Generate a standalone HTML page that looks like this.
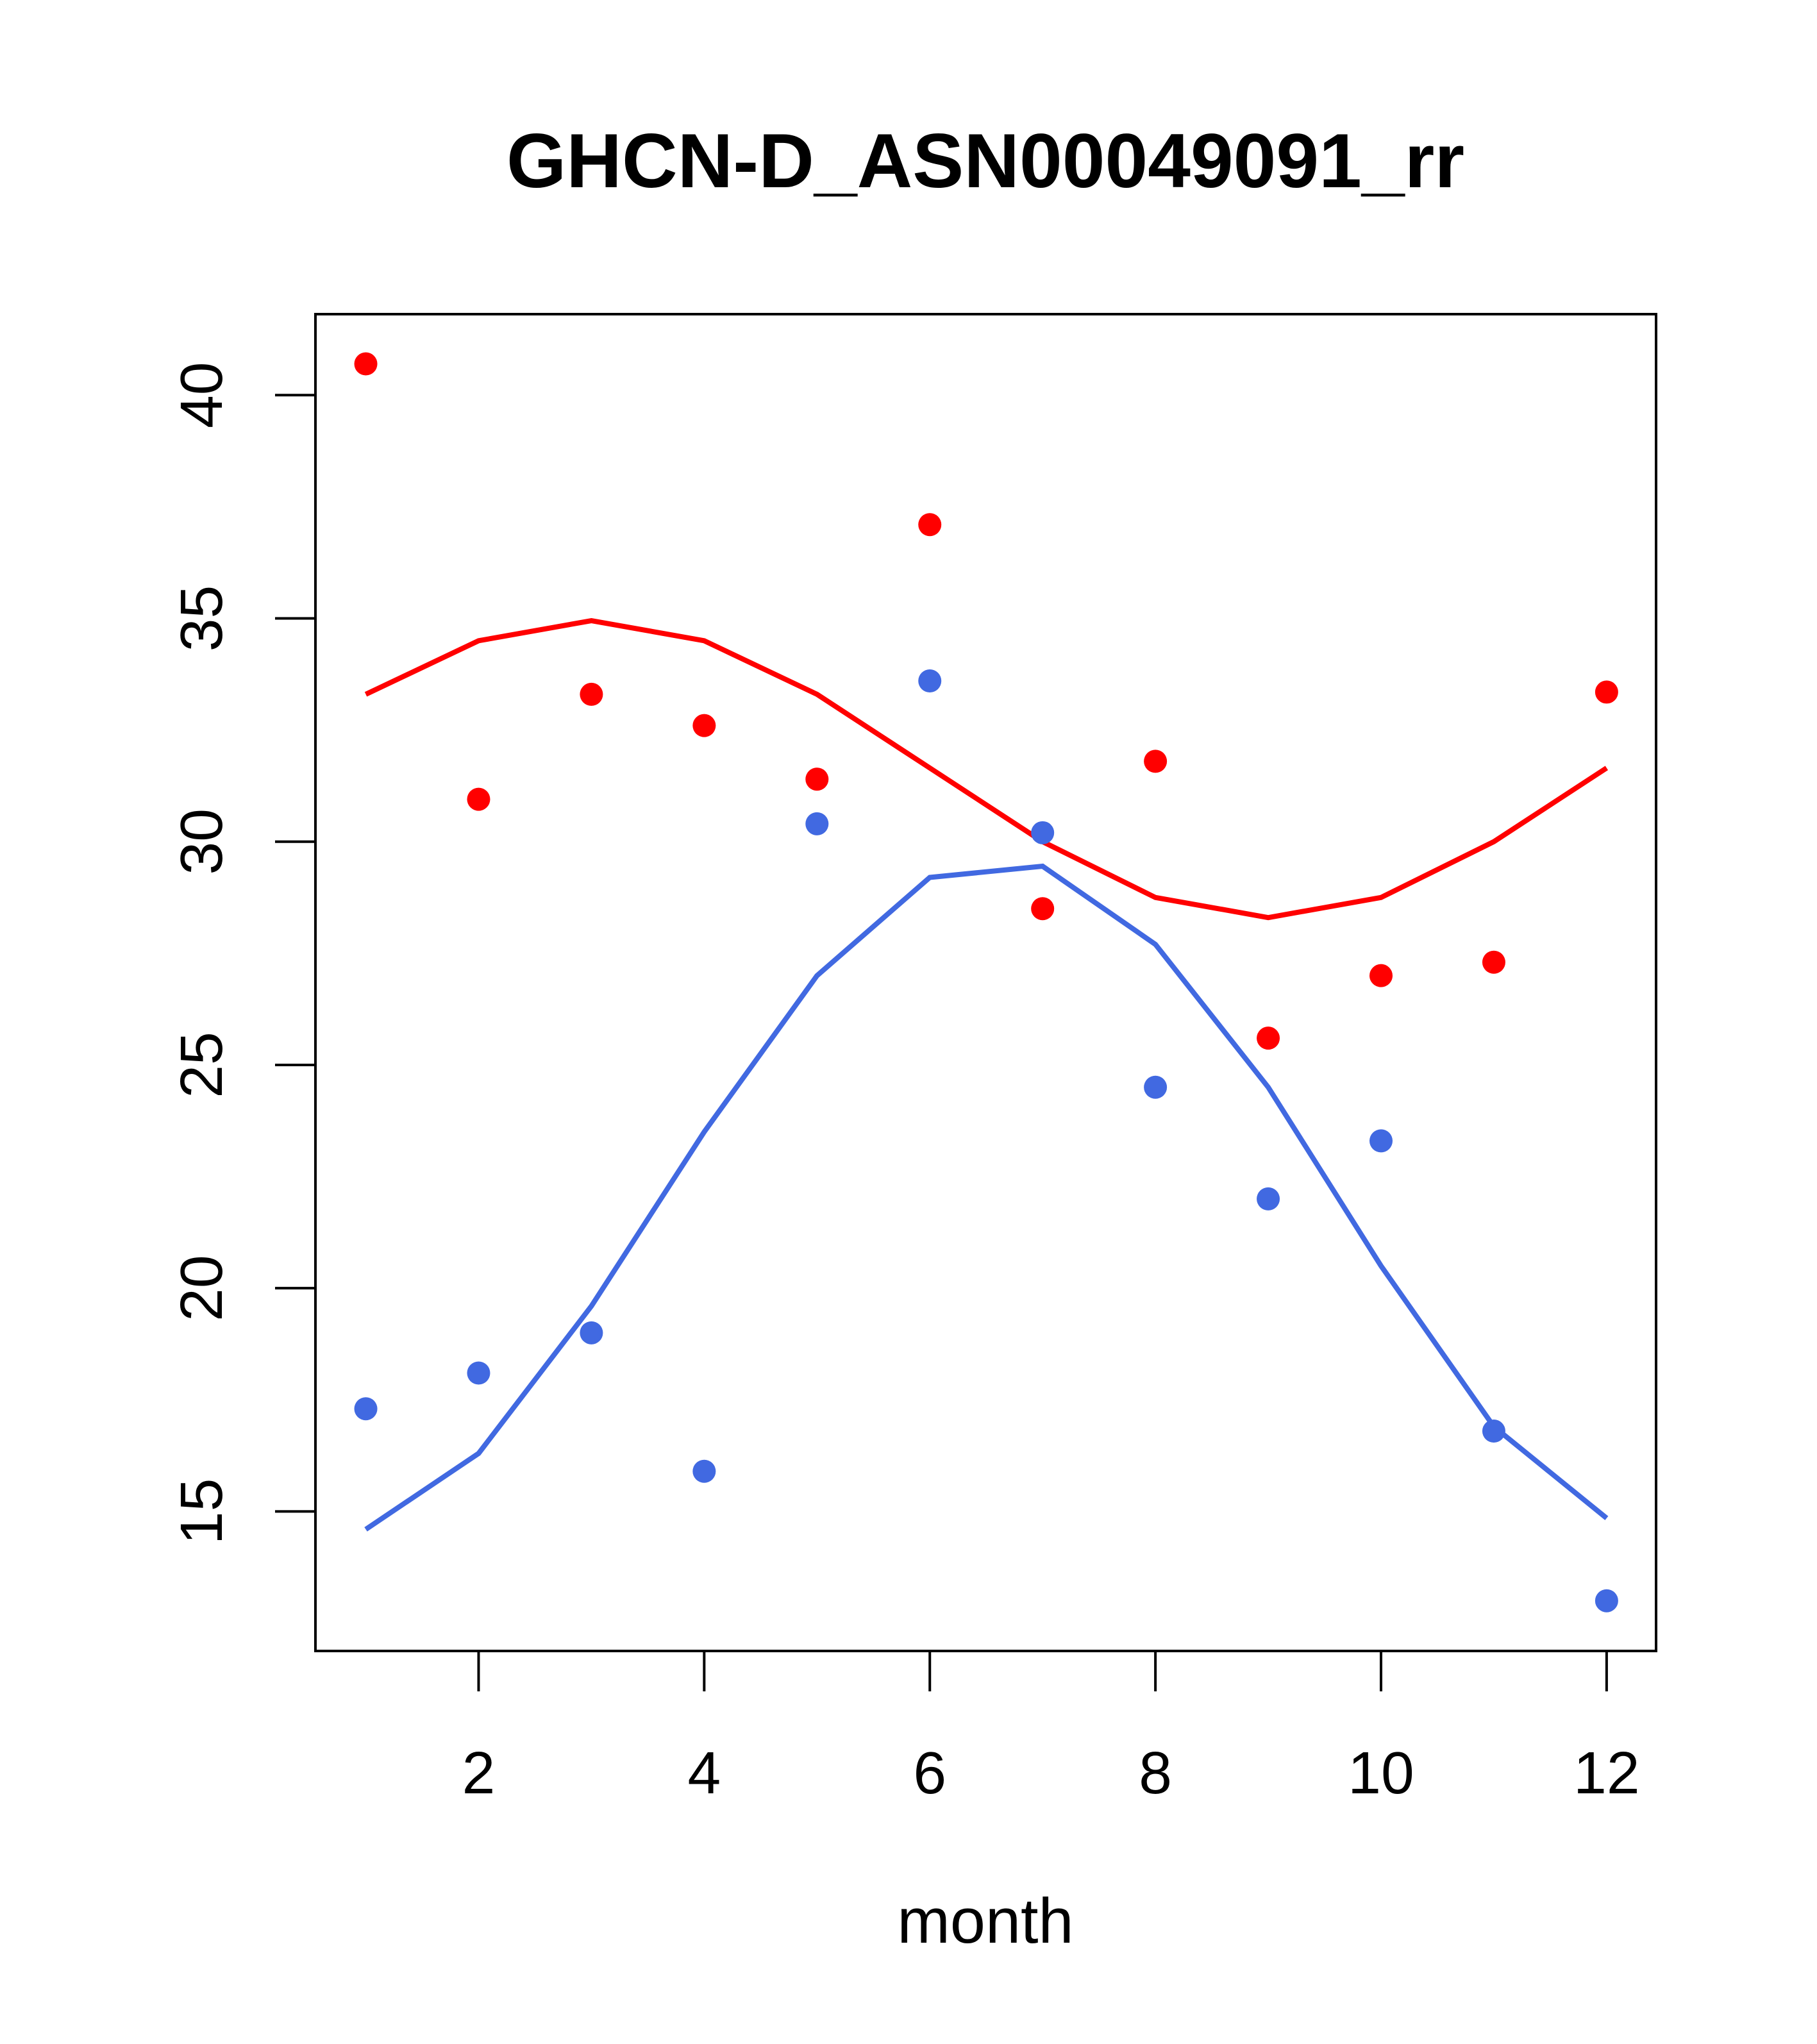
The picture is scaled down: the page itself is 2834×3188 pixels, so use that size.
<!DOCTYPE html>
<html><head><meta charset="utf-8"><style>
html,body{margin:0;padding:0;background:#fff;}
svg{display:block;font-family:"Liberation Sans",sans-serif;}
</style></head><body>
<svg id="chart" width="2834" height="3188" viewBox="0 0 2834 3188" xmlns="http://www.w3.org/2000/svg">
<rect width="2834" height="3188" fill="#fff"/>
<text x="1537" y="292" text-anchor="middle" font-size="120" font-weight="bold">GHCN-D_ASN00049091_rr</text>
<text x="1537" y="3030" text-anchor="middle" font-size="99">month</text>
<rect x="492" y="490" width="2091" height="2085" fill="none" stroke="#000" stroke-width="4"/>
<g id="xaxis"></g>
<g id="yaxis"></g>
<g id="series"></g>
</svg>
<script>
const months = [1,2,3,4,5,6,7,8,9,10,11,12];
const redPoints = [40.7,30.95,33.3,32.6,31.4,37.1,28.5,31.8,25.6,27.0,27.3,33.35];
const redLine = [33.3,34.5,34.95,34.5,33.3,31.65,30.0,28.75,28.3,28.75,30.0,31.65];
const bluePoints = [17.3,18.1,19.0,15.9,30.4,33.6,30.2,24.5,22.0,23.3,16.8,13.0];
const blueLine = [14.6,16.3,19.6,23.5,27.0,29.2,29.45,27.7,24.5,20.5,16.9,14.85];
const xTicks = [2,4,6,8,10,12];
const yTicks = [15,20,25,30,35,40];

const NS = "http://www.w3.org/2000/svg";
const S = 2.034;
function x(m){ return S*(280.5 + (m-1)*86.5); }
function y(v){ return S*(303 + (40-v)*34.24); }
function mk(tag, attrs, parent){
  const e = document.createElementNS(NS, tag);
  for (const k in attrs) e.setAttribute(k, attrs[k]);
  parent.appendChild(e);
  return e;
}
const xa = document.getElementById('xaxis');
xTicks.forEach(t=>{
  const l = mk('line',{x1:x(t),x2:x(t),y1:2575,y2:2638,stroke:'#000','stroke-width':4},xa);
  
  
  const tx = mk('text',{x:x(t),y:2797,'text-anchor':'middle','font-size':93},xa);
  tx.textContent = t;
  
  
});
const ya = document.getElementById('yaxis');
yTicks.forEach(t=>{
  const l = mk('line',{x1:429,x2:492,y1:y(t),y2:y(t),stroke:'#000','stroke-width':4},ya);
  
  
  const tx = mk('text',{x:0,y:0,'text-anchor':'middle','font-size':93,transform:`translate(346,${y(t)}) rotate(-90)`},ya);
  tx.textContent = t;
  
  
});
const s = document.getElementById('series');
function line(vals,color,name){
  const p = mk('polyline',{points:vals.map((v,i)=>x(months[i])+','+y(v)).join(' '),fill:'none',stroke:color,'stroke-width':8},s);
  
  
}
function pts(vals,color,name){
  vals.forEach((v,i)=>{
    const c = mk('circle',{cx:x(months[i]),cy:y(v),r:18,fill:color},s);
    
    
  });
}
line(redLine,'#ff0000','red-line');
line(blueLine,'#4169e1','blue-line');
pts(redPoints,'#ff0000','red-point');
pts(bluePoints,'#4169e1','blue-point');
</script>
</body></html>
